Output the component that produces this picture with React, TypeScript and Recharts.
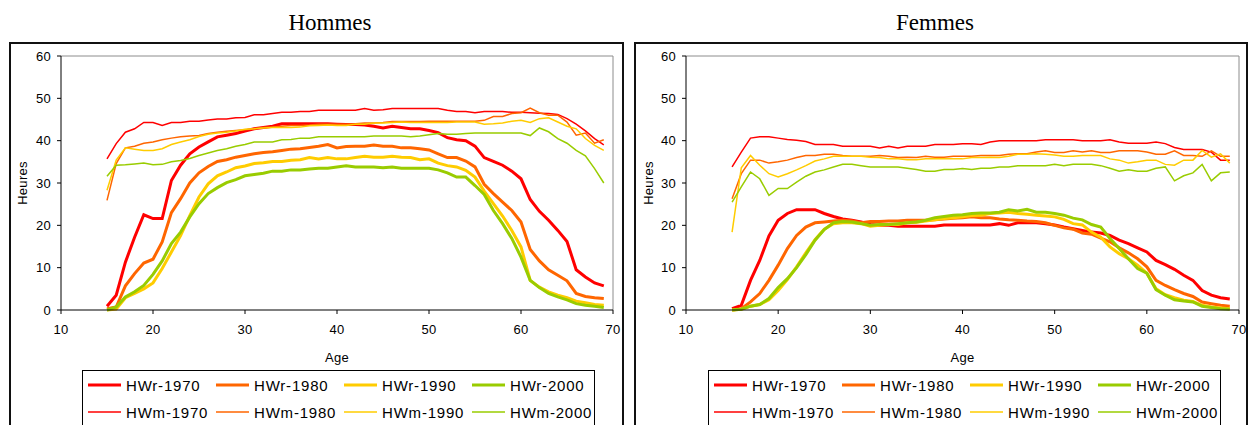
import { Legend, Line, LineChart, ReferenceLine, XAxis, YAxis } from "recharts";

const ages = [
  15, 16, 17, 18, 19, 20, 21, 22, 23, 24, 25, 26, 27, 28, 29, 30, 31, 32, 33, 34,
  35, 36, 37, 38, 39, 40, 41, 42, 43, 44, 45, 46, 47, 48, 49, 50, 51, 52, 53, 54,
  55, 56, 57, 58, 59, 60, 61, 62, 63, 64, 65, 66, 67, 68, 69,
];

const xTicks = [10, 20, 30, 40, 50, 60, 70];
const yTicks = [0, 10, 20, 30, 40, 50, 60];

// Hommes
const hHWr1970 = [
  0.9, 3.5, 11.3, 17.2, 22.5, 21.6, 21.6, 30.6, 34.2, 36.9,
  38.5, 39.7, 40.9, 41.3, 41.7, 42.3, 42.8, 43.1, 43.4, 44.0,
  44.0, 44.0, 44.0, 44.0, 44.0, 43.9, 43.8, 43.8, 43.7, 43.4,
  43.0, 43.4, 43.1, 42.8, 42.8, 42.4, 41.9, 40.7, 40.2, 40.0,
  38.7, 36.0, 35.1, 34.2, 32.8, 31.0, 26.1, 23.3, 21.2, 18.8,
  16.2, 9.5, 7.8, 6.4, 5.7,
];
const hHWr1980 = [
  0.3, 0.7, 5.7, 8.6, 11.1, 12.0, 16.1, 23.0, 26.3, 30.0,
  32.4, 33.9, 35.1, 35.5, 36.1, 36.5, 36.9, 37.2, 37.4, 37.7,
  38.0, 38.1, 38.4, 38.7, 39.1, 38.3, 38.6, 38.7, 38.7, 39.0,
  38.7, 38.7, 38.3, 38.3, 38.1, 37.8, 36.9, 36.0, 36.0, 35.2,
  33.8, 29.7, 27.5, 25.5, 23.5, 20.8, 14.3, 11.6, 9.5, 8.2,
  6.9, 3.9, 3.2, 2.9, 2.7,
];
const hHWr1990 = [
  0, 0.2, 2.9, 3.9, 5.0, 6.4, 9.8, 13.7, 17.6, 22.3,
  26.7, 29.8, 31.7, 32.6, 33.6, 34.0, 34.6, 34.8, 35.1, 35.1,
  35.4, 35.5, 36.0, 35.7, 36.0, 35.7, 35.7, 36.0, 36.3, 36.1,
  36.1, 36.3, 36.1, 36.0, 35.5, 35.7, 34.7, 34.1, 33.8, 33.0,
  31.4, 28.1, 25.1, 22.2, 18.8, 14.9, 7.0, 5.4, 4.3, 3.5,
  2.9, 2.1, 1.7, 1.3, 1.1,
];
const hHWr2000 = [
  0, 0.7, 3.1, 4.3, 5.8, 8.4, 11.6, 15.7, 18.4, 22.0,
  25.1, 27.5, 28.9, 30.1, 30.8, 31.7, 32.0, 32.3, 32.8, 32.8,
  33.1, 33.1, 33.3, 33.5, 33.5, 33.8, 34.1, 33.8, 33.8, 33.8,
  33.6, 33.8, 33.5, 33.5, 33.5, 33.5, 33.1, 32.4, 31.4, 31.4,
  29.4, 27.3, 23.5, 20.4, 16.9, 12.5, 7.0, 5.3, 3.9, 3.1,
  2.4, 1.5, 1.1, 0.9, 0.6,
];
const hHWm1970 = [
  35.7, 39.3, 42.0, 42.8, 44.3, 44.3, 43.6, 44.3, 44.3, 44.6,
  44.6, 44.9, 45.1, 45.1, 45.4, 45.5, 46.1, 46.1, 46.4, 46.7,
  46.7, 46.9, 46.9, 47.2, 47.2, 47.2, 47.2, 47.2, 47.6, 47.2,
  47.3, 47.6, 47.6, 47.6, 47.6, 47.6, 47.6, 47.2, 46.9, 46.9,
  46.6, 46.9, 46.9, 46.9, 46.7, 46.7, 46.6, 46.5, 46.4, 46.2,
  45.2, 43.9, 42.3, 40.5, 39.0,
];
const hHWm1980 = [
  25.9, 34.6, 38.3, 38.7, 39.4, 39.7, 40.2, 40.6, 40.9, 41.1,
  41.2, 41.7, 42.0, 42.2, 42.4, 42.6, 42.8, 43.1, 43.2, 43.4,
  43.6, 43.6, 43.7, 43.9, 43.9, 43.9, 43.9, 44.0, 44.2, 44.2,
  44.3, 44.5, 44.5, 44.5, 44.5, 44.6, 44.6, 44.6, 44.6, 44.6,
  44.6, 44.8, 45.7, 45.7, 46.4, 46.6, 47.7, 46.6, 46.0, 46.0,
  44.4, 41.3, 41.8, 39.4, 40.2,
];
const hHWm1990 = [
  28.3, 35.4, 38.3, 38.0, 37.7, 37.7, 38.1, 39.1, 39.7, 40.2,
  41.0, 41.5, 41.8, 42.0, 42.3, 42.7, 42.8, 43.0, 43.1, 43.1,
  43.1, 43.2, 43.5, 43.6, 43.7, 43.6, 43.6, 43.9, 43.9, 44.2,
  44.2, 44.3, 44.4, 44.3, 44.3, 44.3, 44.3, 44.3, 44.4, 44.4,
  44.4, 43.9, 44.0, 44.2, 44.6, 44.8, 44.3, 45.2, 45.4, 44.4,
  43.4, 42.8, 40.5, 38.9, 37.7,
];
const hHWm2000 = [
  31.6, 34.2, 34.3, 34.5, 34.7, 34.3, 34.4, 35.0, 35.3, 35.8,
  36.5, 37.1, 37.7, 38.1, 38.7, 39.1, 39.7, 39.7, 39.7, 40.2,
  40.3, 40.6, 40.6, 40.9, 40.9, 40.9, 40.9, 40.9, 40.9, 41.1,
  41.1, 41.1, 41.1, 40.9, 41.1, 41.4, 41.7, 41.5, 41.5, 41.7,
  41.8, 41.8, 41.8, 41.8, 41.8, 41.8, 41.2, 43.0, 42.1, 40.5,
  39.4, 37.7, 36.4, 33.4, 30.0,
];

// Femmes
const fHWr1970 = [
  0.3, 1.1, 7.0, 11.7, 17.5, 21.2, 22.8, 23.7, 23.7, 23.7,
  22.8, 22.1, 21.5, 21.2, 20.8, 20.2, 20.0, 20.0, 19.8, 19.8,
  19.8, 19.8, 19.8, 20.1, 20.1, 20.1, 20.1, 20.1, 20.1, 20.4,
  20.0, 20.6, 20.6, 20.6, 20.4, 20.1, 19.6, 19.2, 18.8, 18.4,
  18.2, 17.6, 16.5, 15.7, 14.7, 13.7, 11.7, 10.7, 9.6, 8.2,
  7.0, 4.6, 3.5, 2.9, 2.6,
];
const fHWr1980 = [
  0, 0.3, 1.9, 3.9, 7.0, 10.6, 14.5, 17.6, 19.6, 20.6,
  20.8, 21.0, 21.2, 21.0, 20.6, 20.9, 20.9, 21.0, 21.0, 21.2,
  21.2, 21.2, 21.3, 21.5, 21.7, 21.8, 22.0, 21.8, 21.8, 21.5,
  21.3, 21.2, 21.0, 20.9, 20.6, 20.0, 19.4, 19.1, 18.2, 17.9,
  17.0, 16.1, 14.7, 13.5, 12.1, 10.2, 7.0, 5.8, 4.8, 3.9,
  3.2, 1.9, 1.5, 1.1, 0.9,
];
const fHWr1990 = [
  0, 0.2, 0.9, 1.3, 2.4, 4.6, 7.2, 10.2, 13.5, 16.6,
  19.1, 20.4, 20.6, 20.6, 20.4, 19.8, 20.0, 20.2, 20.2, 20.6,
  20.7, 21.0, 21.3, 21.6, 21.8, 22.0, 22.3, 22.4, 22.8, 22.9,
  23.1, 22.8, 22.6, 22.4, 22.2, 22.0, 21.4, 20.4, 20.1, 18.4,
  17.2, 14.9, 13.3, 12.1, 10.6, 8.7, 5.0, 3.6, 2.9, 2.3,
  2.0, 1.1, 0.7, 0.5, 0.3,
];
const fHWr2000 = [
  0, 0.2, 0.9, 1.3, 2.7, 5.3, 7.4, 10.0, 13.1, 16.5,
  19.0, 20.6, 20.9, 20.8, 20.4, 20.0, 20.2, 20.2, 20.4, 20.6,
  20.8, 21.2, 21.8, 22.1, 22.4, 22.5, 22.8, 22.9, 22.9, 23.1,
  23.7, 23.4, 23.8, 23.1, 23.1, 22.8, 22.4, 21.7, 21.3, 20.2,
  19.6, 16.9, 14.5, 12.1, 9.8, 8.7, 4.8, 3.5, 2.4, 2.1,
  1.9, 0.9, 0.6, 0.3, 0.2,
];
const fHWm1970 = [
  33.8, 37.3, 40.6, 40.9, 40.9, 40.6, 40.3, 40.1, 39.8, 39.1,
  39.1, 39.1, 38.7, 38.7, 38.7, 38.7, 38.3, 38.7, 38.3, 38.7,
  38.7, 38.7, 39.1, 39.1, 39.1, 39.3, 39.3, 39.1, 39.7, 40.0,
  40.0, 40.0, 40.0, 40.0, 40.2, 40.2, 40.2, 40.2, 40.0, 40.0,
  40.0, 40.2, 39.7, 39.4, 39.4, 39.4, 39.7, 39.3, 38.4, 37.9,
  37.9, 37.9, 37.3, 35.4, 35.4,
];
const fHWm1980 = [
  26.3, 32.2, 35.4, 35.4, 34.7, 35.0, 35.4, 36.0, 36.5, 36.5,
  36.8, 36.8, 36.5, 36.3, 36.3, 36.3, 36.5, 36.3, 36.0, 36.1,
  36.0, 36.3, 36.1, 36.1, 36.3, 36.3, 36.3, 36.5, 36.5, 36.5,
  36.8, 36.9, 36.9, 37.3, 37.6, 37.2, 37.2, 37.6, 37.3, 37.6,
  37.2, 37.2, 37.6, 37.6, 37.6, 37.3, 36.8, 36.8, 37.6, 36.5,
  36.5, 36.3, 37.6, 36.3, 36.3,
];
const fHWm1990 = [
  18.4, 33.6, 36.5, 34.2, 32.2, 31.4, 32.2, 33.1, 34.1, 35.2,
  35.7, 36.3, 36.3, 36.3, 36.3, 36.1, 36.0, 35.7, 35.7, 35.5,
  35.5, 35.7, 35.7, 35.7, 35.7, 35.7, 36.0, 36.0, 36.1, 36.0,
  36.3, 36.8, 36.8, 36.9, 36.8, 36.6, 36.3, 36.3, 36.5, 36.5,
  36.5, 35.7, 35.4, 34.7, 35.0, 35.4, 35.4, 34.4, 34.2, 35.4,
  35.4, 37.7, 36.1, 36.9, 34.7,
];
const fHWm2000 = [
  25.5, 29.1, 32.6, 31.0, 27.1, 28.7, 28.7, 30.2, 31.6, 32.6,
  33.1, 33.8, 34.4, 34.4, 34.1, 33.8, 33.8, 33.8, 33.8, 33.5,
  33.2, 32.8, 32.8, 33.2, 33.2, 33.4, 33.2, 33.5, 33.5, 33.8,
  33.8, 34.1, 34.1, 34.1, 34.1, 34.4, 34.1, 34.4, 34.4, 34.4,
  34.1, 33.5, 32.8, 33.1, 32.8, 32.8, 33.5, 33.8, 30.5, 31.7,
  32.4, 34.4, 30.5, 32.4, 32.6,
];

const seriesNames = [
  "HWr-1970", "HWr-1980", "HWr-1990", "HWr-2000",
  "HWm-1970", "HWm-1980", "HWm-1990", "HWm-2000",
];
const colors = ["#FF0000", "#FF6600", "#FFCC00", "#99CC00"];

const hommesValues = [hHWr1970, hHWr1980, hHWr1990, hHWr2000, hHWm1970, hHWm1980, hHWm1990, hHWm2000];
const femmesValues = [fHWr1970, fHWr1980, fHWr1990, fHWr2000, fHWm1970, fHWm1980, fHWm1990, fHWm2000];

const buildRows = (values: number[][]) =>
  ages.map((age, i) => {
    const row: Record<string, number> = { age };
    seriesNames.forEach((name, s) => {
      row[name] = values[s][i];
    });
    return row;
  });

const font = "'Liberation Sans', Arial, sans-serif";
const tickStyle = { fontSize: 13, fill: "#000", fontFamily: font, letterSpacing: 0.3 };

function LegendBox({ payload }: any) {
  // keep the series order (recharts sorts the payload by name)
  const items = [...((payload || []) as any[])].sort(
    (a, b) => seriesNames.indexOf(a.value) - seriesNames.indexOf(b.value)
  );
  return (
    <div style={{ position: "relative", height: 55 }}>
      <div
        style={{
          position: "absolute",
          left: 72,
          top: 0,
          width: 513,
          height: 70,
          border: "1px solid #000",
          boxSizing: "border-box",
          background: "#fff",
        }}
      >
        {items.map((item, i) => {
          const col = i % 4;
          const row = Math.floor(i / 4);
          const thick = String(item.value).startsWith("HWr");
          return (
            <div
              key={item.value}
              style={{
                position: "absolute",
                left: 5 + col * 128,
                top: 4 + row * 27,
                height: 20,
                display: "flex",
                alignItems: "center",
                whiteSpace: "nowrap",
              }}
            >
              <svg width={33} height={6} style={{ marginRight: 5 }}>
                <line x1={0} y1={3} x2={33} y2={3} stroke={item.color} strokeWidth={thick ? 3 : 1.5} />
              </svg>
              <span style={{ fontFamily: font, fontSize: 15, letterSpacing: 0.8, color: "#000" }}>
                {item.value}
              </span>
            </div>
          );
        })}
      </div>
    </div>
  );
}

function Panel({ values, width, yWidth, right }: { values: number[][]; width: number; yWidth: number; right: number }) {
  const rows = buildRows(values);
  return (
    <LineChart width={width} height={382} data={rows} margin={{ top: 13, right, bottom: 0, left: 0 }}>
      <XAxis
        dataKey="age"
        type="number"
        domain={[10, 70]}
        ticks={xTicks}
        height={60}
        tickSize={4}
        tickMargin={11}
        stroke="#000"
        tick={tickStyle}
        label={{ value: "Age", position: "center", dy: 17, style: { ...tickStyle, textAnchor: "middle" } }}
      />
      <YAxis
        type="number"
        domain={[0, 60]}
        ticks={yTicks}
        width={yWidth}
        tickSize={4}
        tickMargin={6}
        stroke="#000"
        tick={tickStyle}
        label={{ value: "Heures", angle: -90, position: "center", dx: -13, style: { ...tickStyle, textAnchor: "middle" } }}
      />
      <ReferenceLine y={60} stroke="#8c8c8c" strokeWidth={1} />
      <ReferenceLine x={70} stroke="#8c8c8c" strokeWidth={1} />
      {seriesNames.map((name, s) => (
        <Line
          key={name}
          type="linear"
          dataKey={name}
          name={name}
          stroke={colors[s % 4]}
          strokeWidth={s < 4 ? 3 : 1.5}
          dot={false}
          activeDot={false}
          isAnimationActive={false}
        />
      ))}
      <Legend verticalAlign="bottom" content={(props: any) => <LegendBox {...props} />} />
    </LineChart>
  );
}

const frame = {
  position: "absolute" as const,
  top: 42,
  height: 420,
  border: "2px solid #111",
  boxSizing: "border-box" as const,
};

const titleStyle = {
  position: "absolute" as const,
  top: 11,
  fontFamily: "'Liberation Serif', 'Times New Roman', serif",
  fontSize: 23,
  lineHeight: "23px",
  color: "#000",
  transform: "translateX(-50%)",
  whiteSpace: "nowrap" as const,
};

export default function App() {
  return (
    <div style={{ position: "absolute", left: 0, top: 0, width: 1250, height: 425, background: "#fff", overflow: "hidden" }}>
      <div style={{ ...titleStyle, left: 330 }}>Hommes</div>
      <div style={{ ...titleStyle, left: 935 }}>Femmes</div>
      <div style={{ ...frame, left: 9, width: 615 }} />
      <div style={{ ...frame, left: 634, width: 614 }} />
      <div style={{ position: "absolute", left: 10, top: 43 }}>
        <Panel values={hommesValues} width={613} yWidth={51} right={10} />
      </div>
      <div style={{ position: "absolute", left: 636, top: 43 }}>
        <Panel values={femmesValues} width={611} yWidth={50} right={8} />
      </div>
    </div>
  );
}
